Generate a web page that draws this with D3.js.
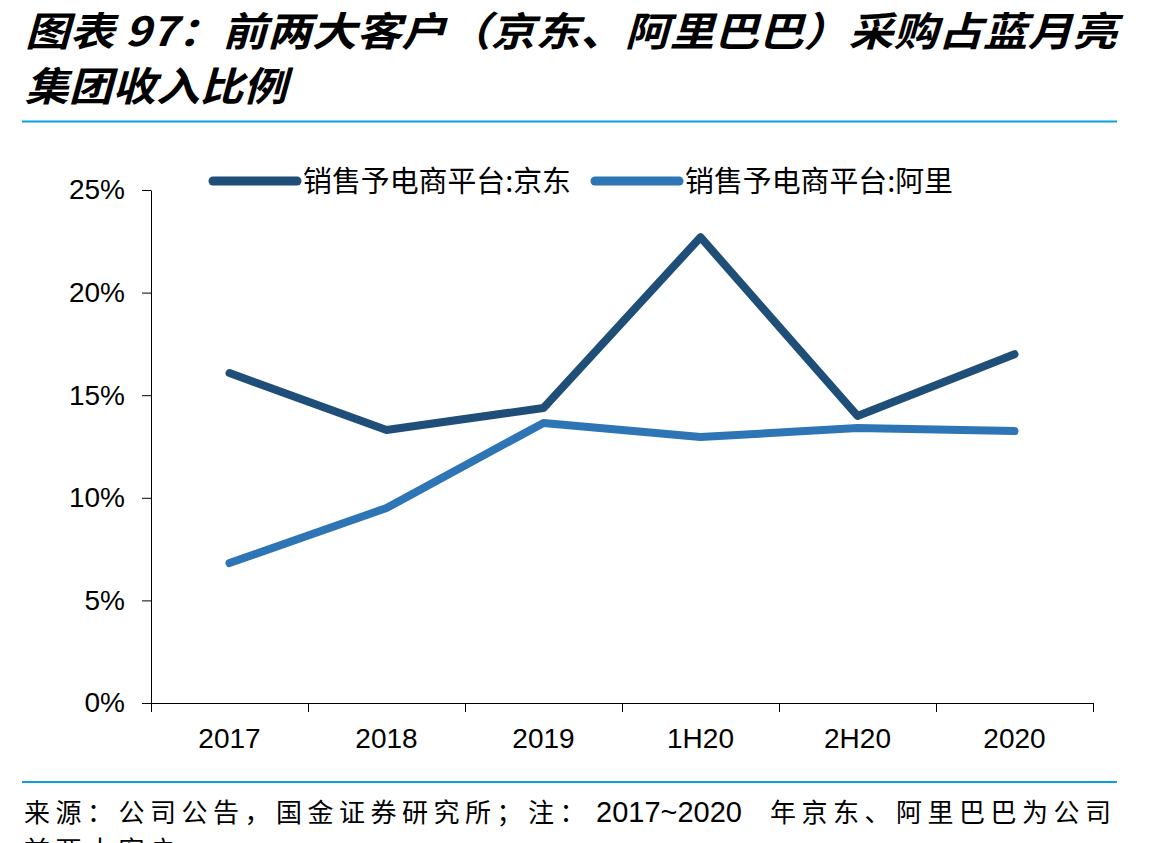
<!DOCTYPE html>
<html lang="zh">
<head>
<meta charset="utf-8">
<title>前两大客户采购占蓝月亮集团收入比例</title>
<script src="https://d3js.org/d3.v7.min.js"></script>
<style>
  body { margin: 0; background: #fff; }
  svg { display: block; }
  .cjk { font-family: "Noto Sans CJK SC", sans-serif; }
</style>
</head>
<body>
<svg id="chart" width="1167" height="843"></svg>
<script>
// data
const periods = ["2017", "2018", "2019", "1H20", "2H20", "2020"];
const jdShare = [0.1608, 0.1330, 0.1438, 0.2270, 0.1399, 0.1700];
const aliShare = [0.0682, 0.0950, 0.1365, 0.1296, 0.1340, 0.1325];
const seriesNames = ["销售予电商平台:京东", "销售予电商平台:阿里"];
const seriesColors = ["#1f4e79", "#2e75b6"];
const yTicks = [0, 0.05, 0.10, 0.15, 0.20, 0.25];

const svg = d3.select("#chart");
const margin = { left: 151, right: 74, top: 190, bottom: 140 };
const W = 1167, H = 843;
const latin = "Liberation Sans, Arial, sans-serif";

// title
const title = svg.append("g").attr("class", "cjk")
  .style("font-weight", "bold").style("font-style", "italic").style("font-size", "40px");
title.append("text").attr("x", 25).attr("y", 46)
  .attr("textLength", 1092).attr("lengthAdjust", "spacingAndGlyphs")
  .text("图表 97：前两大客户（京东、阿里巴巴）采购占蓝月亮");
title.append("text").attr("x", 25).attr("y", 101)
  .attr("textLength", 262).attr("lengthAdjust", "spacingAndGlyphs")
  .text("集团收入比例");

svg.append("line").attr("x1", 22).attr("x2", 1117).attr("y1", 121.5).attr("y2", 121.5)
  .attr("stroke", "#0aa0e0").attr("stroke-width", 2);

// scales
const x = d3.scaleBand().domain(periods).range([margin.left, W - margin.right]);
const xEdge = d3.scaleLinear().domain([0, periods.length]).range([margin.left, W - margin.right]);
const y = d3.scaleLinear().domain([0, 0.25]).range([H - margin.bottom, margin.top]);

// y axis
const yAxis = svg.append("g")
  .attr("transform", `translate(${margin.left},0)`)
  .call(d3.axisLeft(y).tickValues(yTicks).tickSize(9).tickSizeOuter(0).tickPadding(17)
    .tickFormat(d3.format(".0%")));
yAxis.selectAll("text").style("font-size", "28px").attr("fill", "#000")
  .attr("font-family", latin);
yAxis.selectAll("line,path").attr("stroke", "#000");

// x axis: ticks on category boundaries
const xAxis = svg.append("g")
  .attr("transform", `translate(0,${y(0)})`)
  .call(d3.axisBottom(xEdge).tickValues(d3.range(periods.length + 1)).tickSize(9)
    .tickSizeOuter(0).tickFormat(""));
xAxis.selectAll("line,path").attr("stroke", "#000");

const xLab = svg.append("g")
  .attr("transform", `translate(0,${y(0)})`)
  .call(d3.axisBottom(x).tickSize(0).tickPadding(25));
xLab.select(".domain").remove();
xLab.selectAll("text").style("font-size", "28px").attr("fill", "#000")
  .attr("font-family", latin);

// lines
const line = d3.line()
  .x((d, i) => x(periods[i]) + x.bandwidth() / 2)
  .y(d => y(d));
[jdShare, aliShare].forEach((vals, k) => {
  svg.append("path").datum(vals)
    .attr("d", line)
    .attr("fill", "none")
    .attr("stroke", seriesColors[k])
    .attr("stroke-width", 8)
    .attr("stroke-linejoin", "round")
    .attr("stroke-linecap", "round");
});

// legend
const legendX = [213, 595];
seriesNames.forEach((name, k) => {
  const g = svg.append("g").attr("transform", `translate(${legendX[k]},181)`);
  g.append("line").attr("x1", 0).attr("x2", 84).attr("y1", 0).attr("y2", 0)
    .attr("stroke", seriesColors[k]).attr("stroke-width", 9).attr("stroke-linecap", "round");
  g.append("text").attr("class", "cjk").attr("x", 90).attr("y", 11)
    .attr("textLength", 268).attr("lengthAdjust", "spacingAndGlyphs")
    .style("font-size", "29px").attr("fill", "#000").text(name);
});

// footer
svg.append("line").attr("x1", 22).attr("x2", 1117).attr("y1", 782).attr("y2", 782)
  .attr("stroke", "#0aa0e0").attr("stroke-width", 2);
const foot = svg.append("g").attr("class", "cjk").style("font-size", "26px").attr("fill", "#000");
const f1 = foot.append("text").attr("x", 24).attr("y", 822);
f1.append("tspan").style("letter-spacing", "5.5px").text("来源：公司公告，国金证券研究所；注：");
f1.append("tspan").attr("x", 596).attr("font-family", latin).style("font-size", "29px").text("2017~2020");
f1.append("tspan").attr("x", 770).style("letter-spacing", "5.5px").text("年京东、阿里巴巴为公司");
foot.append("text").attr("x", 24).attr("y", 860)
  .style("letter-spacing", "5.5px").text("前两大客户。");
</script>
</body>
</html>
